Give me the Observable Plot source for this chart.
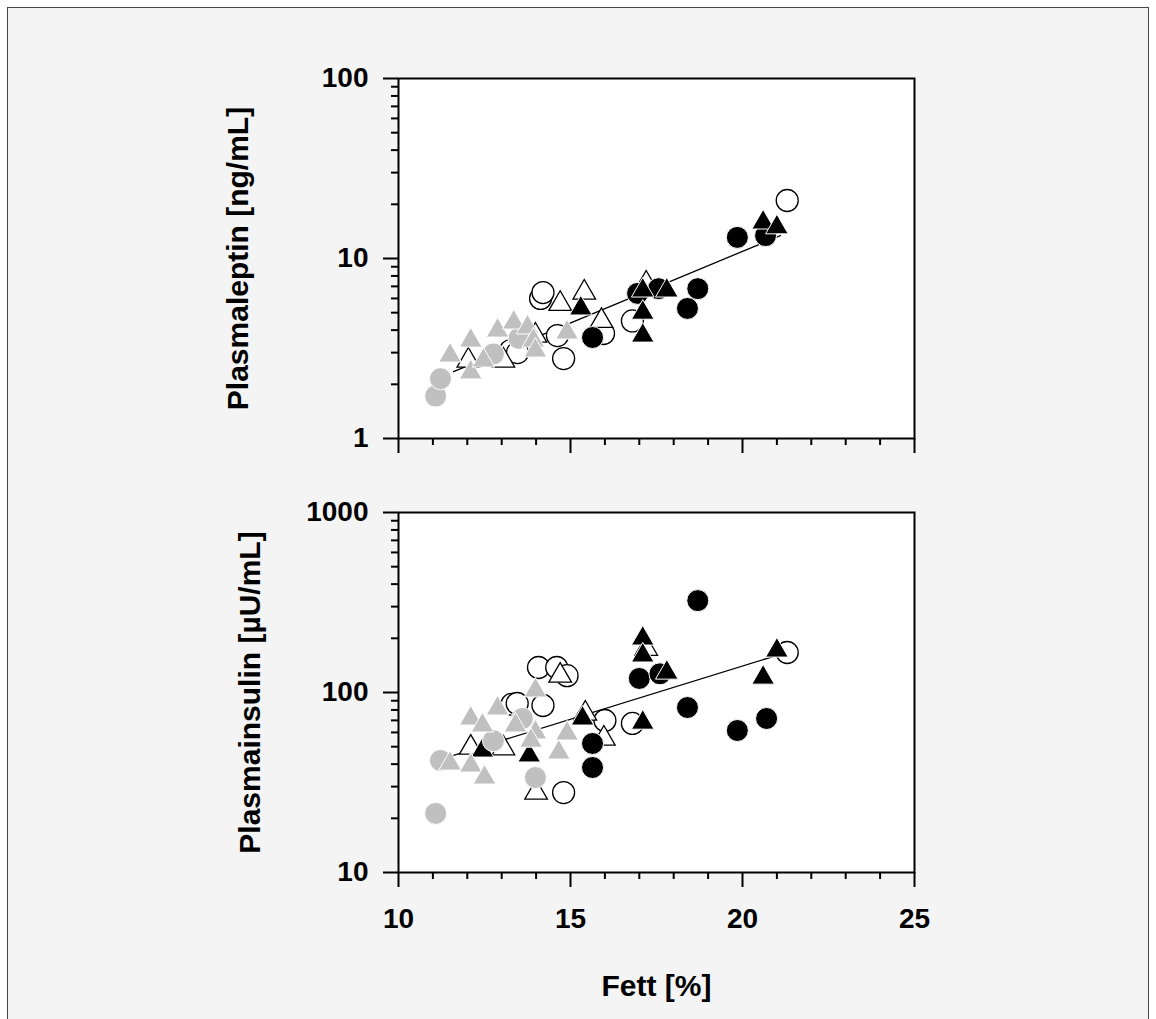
<!DOCTYPE html>
<html>
<head>
<meta charset="utf-8">
<script src="https://cdn.jsdelivr.net/npm/d3@7"></script>
<script src="https://cdn.jsdelivr.net/npm/@observablehq/plot@0.6"></script>
<style>
  html, body { margin: 0; padding: 0; background: #ffffff; }
  #page { position: relative; width: 1156px; height: 1019px; overflow: hidden; }
  #box { position: absolute; left: 7px; top: 7px; width: 1140px; height: 1040px;
         border-left: 1px solid #444; border-top: 1px solid #444; border-right: 1px solid #444;
         background: #f4f4f4; }
  #top, #bottom { position: absolute; left: 0; }
  #top { top: 0; }
  #bottom { top: 470px; }
</style>
</head>
<body>
<div id="page">
  <div id="box"></div>
  <div id="top"></div>
  <div id="bottom"></div>
</div>
<script>
// ---------- Data ----------
// Upper panel: Plasmaleptin [ng/mL] vs Fett [%]
const leptinGrayCircleX   = [11.08, 11.22, 12.76, 13.5];
const leptinGrayCircleY   = [1.72, 2.15, 2.95, 3.6];
const leptinGrayTriX      = [11.5, 12.1, 12.1, 12.47, 12.88, 13.35, 13.75, 13.92, 13.98, 14.9];
const leptinGrayTriY      = [2.89, 3.5, 2.33, 2.71, 3.98, 4.41, 4.14, 3.5, 3.08, 3.88];
const leptinOpenCircleX   = [13.26, 13.46, 14.13, 14.2, 14.62, 14.8, 15.96, 16.8, 21.3];
const leptinOpenCircleY   = [3.08, 3.0, 6.0, 6.47, 3.73, 2.78, 3.83, 4.5, 21.0];
const leptinOpenTriX      = [12.03, 13.05, 13.98, 14.7, 15.4, 15.9, 17.2];
const leptinOpenTriY      = [2.71, 2.71, 3.73, 5.6, 6.47, 4.5, 7.26];
const leptinBlackCircleX  = [15.64, 16.95, 17.56, 18.4, 18.7, 19.85, 20.67];
const leptinBlackCircleY  = [3.64, 6.4, 6.8, 5.28, 6.8, 13.1, 13.4];
const leptinBlackTriX     = [15.3, 17.1, 17.1, 17.1, 17.8, 20.6, 21.0];
const leptinBlackTriY     = [5.28, 5.0, 3.73, 6.64, 6.64, 15.85, 14.9];
const leptinFitX          = [11.6, 21.1];
const leptinFitY          = [2.35, 13.4];

// Lower panel: Plasmainsulin [µU/mL] vs Fett [%]
const insulinGrayCircleX  = [11.08, 11.22, 12.76, 13.6, 13.98];
const insulinGrayCircleY  = [21.3, 41.9, 54, 71.7, 33.7];
const insulinGrayTriX     = [11.5, 12.1, 12.5, 12.1, 12.44, 12.88, 13.4, 13.98, 13.98, 13.85, 14.66, 14.9];
const insulinGrayTriY     = [40.3, 39.3, 33.7, 71.7, 65.6, 81.5, 65.6, 102.6, 60, 54, 46.4, 59.2];
const insulinOpenCircleX  = [13.3, 13.45, 14.07, 14.2, 14.6, 14.9, 16.0, 16.8, 14.8, 21.3];
const insulinOpenCircleY  = [86, 86.9, 137.7, 84.7, 137.7, 124, 69.9, 67.3, 27.8, 166.8];
const insulinOpenTriX     = [12.1, 13.05, 14.0, 14.7, 15.43, 15.97, 17.2];
const insulinOpenTriY     = [49.4, 48.9, 27.8, 124, 76.4, 55.5, 175];
const insulinBlackCircleX = [15.64, 15.64, 17.0, 17.6, 18.4, 18.7, 19.85, 20.7];
const insulinBlackCircleY = [52.1, 38.3, 119.7, 127, 82.5, 324, 61.5, 71.7];
const insulinBlackTriX    = [12.44, 13.8, 15.35, 17.1, 17.1, 17.8, 17.1, 20.6, 21.0];
const insulinBlackTriY    = [47.6, 44.7, 71.7, 199.5, 160.6, 129, 68, 121, 171];
const insulinFitX         = [11.6, 21.1];
const insulinFitY         = [44.7, 163];

// Axis ticks
const xMajorTicks = [10, 15, 20, 25];
const xMinorTicks = [11, 12, 13, 14, 16, 17, 18, 19, 21, 22, 23, 24];
const leptinMajorTicks  = [1, 10, 100];
const leptinMinorTicks  = [2, 3, 4, 5, 6, 7, 8, 9, 20, 30, 40, 50, 60, 70, 80, 90];
const insulinMajorTicks = [10, 100, 1000];
const insulinMinorTicks = [20, 30, 40, 50, 60, 70, 80, 90, 200, 300, 400, 500, 600, 700, 800, 900];

const xTitle = "Fett [%]";
const leptinTitle = "Plasmaleptin [ng/mL]";
const insulinTitle = "Plasmainsulin [µU/mL]";

// ---------- Drawing ----------
const FONT = "'Liberation Sans', Arial, Helvetica, sans-serif";
const GRAY = "#c0c0c0";
const pts = (xs, ys) => xs.map((x, i) => ({x, y: ys[i]}));

function dots(xs, ys, kind, symbol) {
  const r = symbol === "circle" ? 11 : 8.4;
  const style = kind === "open"
    ? {fill: "white", stroke: "black", strokeWidth: 1.3}
    : {fill: kind === "gray" ? GRAY : "black", stroke: "white", strokeWidth: 1};
  return Plot.dot(pts(xs, ys), {x: "x", y: "y", symbol, r, ...style});
}

function panel(o) {
  return Plot.plot({
    width: 1156,
    height: o.height,
    marginLeft: 398,
    marginRight: 242,
    marginTop: o.marginTop,
    marginBottom: o.marginBottom,
    style: {background: "transparent", fontFamily: FONT, fontWeight: "bold", fontSize: "28px", color: "black", overflow: "visible"},
    x: {type: "linear", domain: [10, 25]},
    y: {type: "log", domain: o.yDomain},
    marks: [
      Plot.frame({fill: "white", stroke: "none"}),
      Plot.line(pts(o.fitX, o.fitY), {x: "x", y: "y", stroke: "black", strokeWidth: 1.3}),
      dots(o.openCircleX, o.openCircleY, "open", "circle"),
      dots(o.openTriX, o.openTriY, "open", "triangle"),
      dots(o.blackCircleX, o.blackCircleY, "black", "circle"),
      dots(o.blackTriX, o.blackTriY, "black", "triangle"),
      dots(o.grayCircleX, o.grayCircleY, "gray", "circle"),
      dots(o.grayTriX, o.grayTriY, "gray", "triangle"),
      Plot.frame({stroke: "black", strokeWidth: 2}),
      Plot.axisY({ticks: o.yMajor, tickSize: 15, tickPadding: 15, strokeWidth: 2, label: null,
                  tickFormat: d => String(d), fontSize: 28, fontWeight: "bold", fill: "black"}),
      Plot.axisY({ticks: o.yMinor, tickSize: 7, strokeWidth: 2, label: null, tickFormat: () => ""}),
      Plot.axisX({ticks: xMajorTicks, tickSize: 15, tickPadding: 21, strokeWidth: 2, label: null,
                  tickFormat: o.xLabels ? (d => String(d)) : (() => ""), fontSize: 28, fontWeight: "bold", fill: "black"}),
      Plot.axisX({ticks: xMinorTicks, tickSize: 7, strokeWidth: 2, label: null, tickFormat: () => ""}),
      Plot.text([o.title], {frameAnchor: "left", rotate: -90, dx: o.titleDx, text: d => d, textAnchor: "middle",
                            fontSize: 30, fontWeight: "bold", fill: "black", lineAnchor: "middle"}),
      ...(o.xLabels ? [Plot.text([xTitle], {frameAnchor: "bottom", dy: 114, text: d => d, textAnchor: "middle",
                            fontSize: 30, fontWeight: "bold", fill: "black", lineAnchor: "middle"})] : [])
    ]
  });
}

document.getElementById("top").append(panel({
  height: 470, marginTop: 78, marginBottom: 32, yDomain: [1, 100],
  yMajor: leptinMajorTicks, yMinor: leptinMinorTicks,
  grayCircleX: leptinGrayCircleX, grayCircleY: leptinGrayCircleY,
  grayTriX: leptinGrayTriX, grayTriY: leptinGrayTriY,
  openCircleX: leptinOpenCircleX, openCircleY: leptinOpenCircleY,
  openTriX: leptinOpenTriX, openTriY: leptinOpenTriY,
  blackCircleX: leptinBlackCircleX, blackCircleY: leptinBlackCircleY,
  blackTriX: leptinBlackTriX, blackTriY: leptinBlackTriY,
  fitX: leptinFitX, fitY: leptinFitY,
  title: leptinTitle, titleDx: -160, xLabels: false
}));

document.getElementById("bottom").append(panel({
  height: 549, marginTop: 42, marginBottom: 147, yDomain: [10, 1000],
  yMajor: insulinMajorTicks, yMinor: insulinMinorTicks,
  grayCircleX: insulinGrayCircleX, grayCircleY: insulinGrayCircleY,
  grayTriX: insulinGrayTriX, grayTriY: insulinGrayTriY,
  openCircleX: insulinOpenCircleX, openCircleY: insulinOpenCircleY,
  openTriX: insulinOpenTriX, openTriY: insulinOpenTriY,
  blackCircleX: insulinBlackCircleX, blackCircleY: insulinBlackCircleY,
  blackTriX: insulinBlackTriX, blackTriY: insulinBlackTriY,
  fitX: insulinFitX, fitY: insulinFitY,
  title: insulinTitle, titleDx: -148, xLabels: true
}));
</script>
</body>
</html>
